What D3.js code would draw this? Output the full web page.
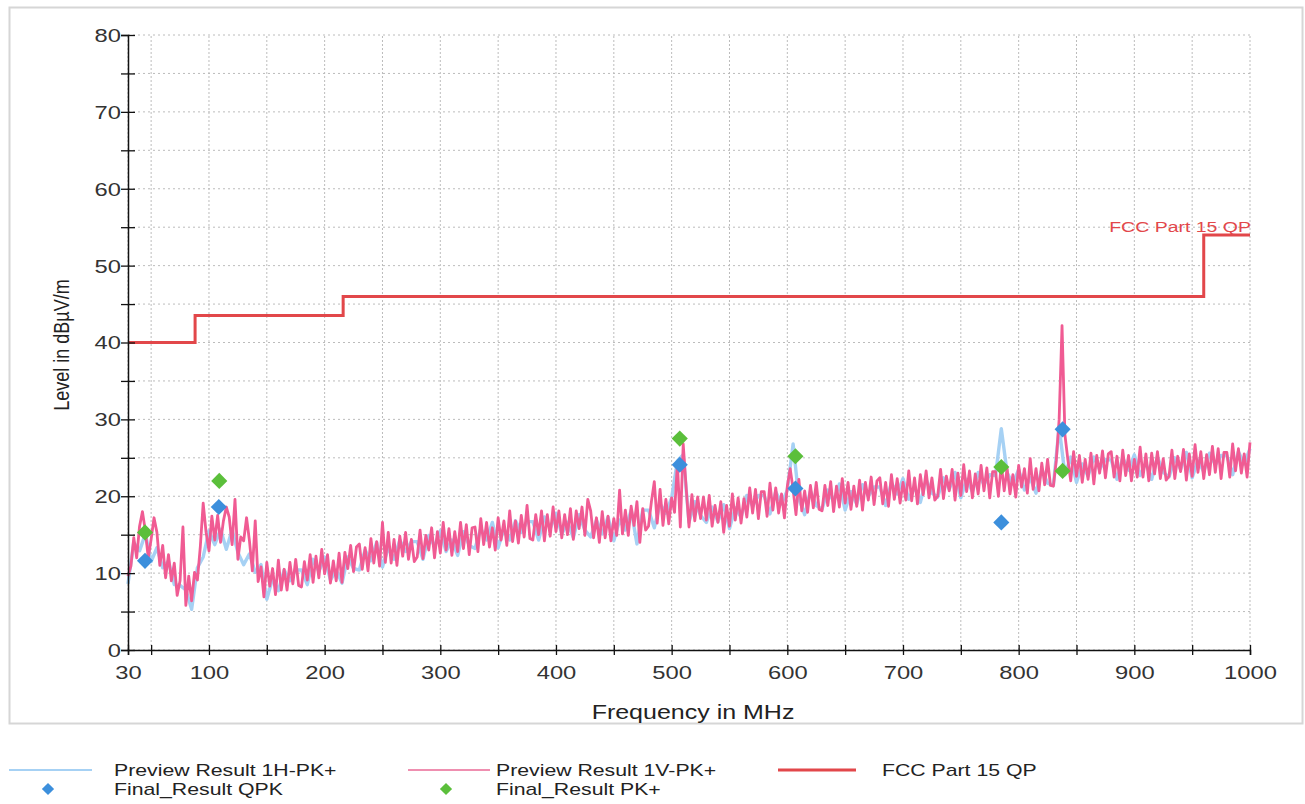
<!DOCTYPE html>
<html>
<head>
<meta charset="utf-8">
<script src="https://cdn.jsdelivr.net/npm/d3@7"></script>
<style>
body { margin: 0; background: #fff; }
svg text { font-family: "Liberation Sans", Arial, sans-serif; }
</style>
</head>
<body>
<div id="chart"></div>
<script>
// sweep settings (MHz)
var sweepStart = 30;
var step1V = 2.5;
var step1H = 5;

// Preview Result 1V-PK+ (dBµV/m), one value per 2.5 MHz from 30 MHz
var level1V = [
  9.6, 10.9, 14.6, 12.0, 16.1, 18.0, 15.5, 12.0, 14.4, 17.2, 15.3, 11.0, 13.6, 9.4, 12.4, 9.0, 11.3, 7.1, 9.0, 16.0,
  5.8, 9.6, 6.4, 10.1, 9.1, 13.4, 19.1, 15.3, 12.9, 17.4, 14.3, 17.5, 14.0, 16.8, 18.6, 17.3, 13.7, 19.6, 11.8, 14.7,
  14.2, 17.2, 14.2, 10.3, 16.8, 8.9, 10.8, 6.9, 11.4, 8.3, 10.6, 7.2, 11.7, 7.8, 10.5, 7.8, 11.4, 8.6, 11.8, 8.4,
  8.2, 11.5, 9.1, 12.4, 8.8, 12.2, 9.4, 13.1, 9.9, 12.4, 8.7, 11.6, 9.0, 12.6, 8.8, 12.7, 10.6, 13.6, 10.2, 13.4,
  13.8, 10.5, 13.3, 10.3, 14.5, 11.3, 14.1, 10.9, 16.6, 11.4, 15.3, 11.3, 14.4, 11.0, 14.8, 12.2, 15.3, 11.8, 14.4, 11.5,
  12.1, 15.6, 11.9, 14.9, 13.0, 15.9, 12.0, 15.4, 12.6, 16.6, 13.0, 15.8, 12.3, 15.4, 12.8, 16.6, 13.2, 16.3, 12.4, 15.9,
  16.0, 12.8, 17.1, 13.7, 16.6, 13.4, 15.9, 13.0, 17.2, 14.3, 16.8, 13.6, 18.1, 14.1, 16.8, 13.9, 17.5, 14.7, 18.8, 14.5,
  14.3, 17.6, 15.0, 18.1, 14.2, 17.6, 14.8, 18.6, 15.4, 18.1, 14.6, 17.6, 15.0, 18.4, 14.4, 18.1, 15.8, 18.6, 14.9, 19.6,
  18.1, 14.6, 17.2, 14.0, 18.0, 14.6, 17.4, 14.2, 17.1, 14.9, 20.8, 15.1, 18.2, 14.9, 18.7, 16.2, 19.3, 14.0, 18.4, 15.6,
  16.1, 19.3, 21.9, 16.5, 20.9, 16.2, 19.6, 16.4, 19.8, 17.9, 24.3, 16.0, 26.8, 21.2, 16.0, 20.2, 16.8, 19.9, 17.1, 19.9,
  16.9, 20.1, 16.1, 18.8, 16.6, 19.3, 15.3, 18.8, 16.1, 20.3, 16.9, 19.8, 16.5, 19.7, 17.3, 21.1, 17.8, 20.9, 17.1, 20.6,
  20.6, 17.4, 21.7, 18.2, 21.1, 17.8, 20.3, 17.2, 21.3, 23.6, 20.9, 17.6, 22.2, 18.1, 20.7, 17.9, 21.4, 18.5, 21.8, 18.3,
  18.1, 21.4, 18.8, 21.9, 18.0, 21.3, 18.6, 22.3, 19.1, 21.8, 18.3, 21.3, 18.7, 22.1, 18.2, 21.8, 19.5, 22.5, 18.9, 22.0,
  22.4, 19.0, 21.8, 18.7, 22.8, 19.6, 22.3, 19.1, 21.8, 19.5, 23.3, 19.4, 22.4, 19.0, 22.8, 20.2, 23.3, 19.8, 22.4, 19.5,
  20.0, 23.5, 19.7, 22.6, 20.7, 23.5, 19.5, 23.0, 20.1, 24.1, 20.6, 23.3, 19.8, 22.9, 20.3, 24.0, 20.7, 23.7, 19.8, 23.2,
  23.2, 20.0, 24.2, 20.7, 23.6, 20.3, 22.8, 19.9, 24.0, 21.2, 23.6, 20.4, 24.9, 20.9, 23.6, 20.7, 24.3, 21.5, 24.8, 21.4,
  21.3, 24.6, 30.0, 42.2, 28.0, 24.8, 22.0, 25.8, 22.6, 25.3, 21.8, 24.8, 22.2, 25.6, 21.6, 25.3, 23.0, 25.9, 22.4, 25.5,
  25.8, 22.5, 25.2, 22.0, 26.0, 22.7, 25.3, 22.0, 24.8, 22.5, 26.4, 22.5, 25.5, 22.0, 25.6, 22.9, 25.8, 22.3, 24.9, 22.1,
  22.6, 26.0, 22.3, 25.2, 23.2, 26.1, 22.1, 25.5, 22.6, 26.7, 23.1, 25.8, 22.3, 25.4, 22.8, 26.5, 23.1, 26.2, 22.3, 25.7,
  25.7, 22.5, 26.8, 23.3, 26.2, 23.0, 25.5, 22.5, 27.0
];

// Preview Result 1H-PK+ (dBµV/m), one value per 5 MHz from 30 MHz
var level1H = [
  8.6, 14.0, 12.9, 15.1, 11.5, 13.3, 10.7, 11.6, 8.5, 8.4,
  7.8, 5.3, 10.7, 12.1, 15.5, 13.7, 15.7, 13.1, 15.6, 12.7,
  11.1, 12.5, 10.1, 11.1, 6.6, 9.3, 7.7, 10.4, 9.0, 10.4,
  10.4, 8.5, 11.8, 10.2, 12.1, 9.1, 10.4, 8.7, 12.1, 10.6,
  10.4, 13.0, 11.6, 14.0, 10.8, 13.3, 11.8, 14.3, 12.8, 14.1,
  14.1, 11.8, 14.9, 13.5, 15.5, 12.8, 14.3, 12.3, 15.4, 13.6,
  13.2, 15.8, 14.3, 16.6, 13.3, 15.8, 14.3, 16.8, 15.3, 16.7,
  16.7, 14.3, 17.3, 15.8, 17.8, 15.1, 16.6, 14.6, 17.6, 15.6,
  14.7, 16.9, 15.1, 17.3, 14.2, 16.9, 15.6, 18.2, 13.8, 18.2,
  18.2, 15.9, 19.0, 17.8, 19.8, 24.6, 25.4, 16.6, 19.3, 17.5,
  16.6, 18.6, 16.7, 18.9, 15.8, 18.5, 17.3, 20.1, 18.7, 20.1,
  20.1, 17.7, 20.6, 19.0, 20.8, 26.8, 19.7, 17.6, 20.7, 18.8,
  18.3, 20.8, 19.3, 21.6, 18.2, 20.6, 19.0, 21.5, 20.0, 21.2,
  21.2, 18.8, 21.8, 20.3, 22.3, 19.6, 21.2, 19.2, 22.2, 20.4,
  19.9, 22.4, 20.9, 23.1, 19.8, 22.2, 20.6, 23.1, 21.5, 22.8,
  22.7, 28.8, 23.1, 21.6, 23.5, 20.8, 22.4, 20.4, 23.5, 21.7,
  21.4, 29.0, 22.8, 25.1, 21.8, 24.2, 22.6, 25.1, 23.5, 24.8,
  24.7, 22.2, 25.0, 23.4, 25.4, 22.7, 24.3, 22.2, 25.1, 23.1,
  22.5, 25.0, 23.5, 25.7, 22.4, 24.7, 23.2, 25.6, 24.1, 25.3,
  25.3, 22.8, 25.8, 24.2, 26.2
];

// FCC Part 15 QP limit (step starts)
var limitFreq = [30, 88, 216, 960, 1000];
var limitLevel = [40, 43.5, 46, 54, 54];

// final measurements
var qpkFreq = [44.7, 108.5, 507, 607, 785, 838];
var qpkLevel = [11.6, 18.6, 24.1, 21.0, 16.6, 28.7];
var pkFreq = [44.7, 108.9, 507, 607, 785, 838];
var pkLevel = [15.3, 22.0, 27.5, 25.2, 23.8, 23.3];

// axis ticks
var xMajorTicks = [30, 100, 200, 300, 400, 500, 600, 700, 800, 900, 1000];
var xMinorTicks = [50, 150, 250, 350, 450, 550, 650, 750, 850, 950];
var yMajorTicks = [0, 10, 20, 30, 40, 50, 60, 70, 80];
var yMinorTicks = [5, 15, 25, 35, 45, 55, 65, 75];

var legendNames = ["Preview Result 1H-PK+", "Final_Result QPK", "Preview Result 1V-PK+", "Final_Result PK+", "FCC Part 15 QP"];

function chart() {
    var w = 1305;
    var h = 804;
    var sx = 1.25;   // the picture's text is stretched sideways

    var colorH = "#a6d1f4";
    var colorV = "#f05b93";
    var colorLimit = "#e2474a";
    var colorQpk = "#3c8fdc";
    var colorPk = "#5bbf3b";

    var svg = d3.select("#chart")
            .append("svg")
            .attr("width", w)
            .attr("height", h);

    svg.append("rect")
        .attr("x", 9.5).attr("y", 7.5)
        .attr("width", 1293).attr("height", 716)
        .attr("fill", "#fff")
        .attr("stroke", "#d6d6d6")
        .attr("stroke-width", 2);

    var x = d3.scaleLinear().domain([30, 1000]).range([128, 1250]);
    var y = d3.scaleLinear().domain([0, 80]).range([650, 35]);

    // dotted grid
    var grid = svg.append("g");
    grid.selectAll("line.v")
        .data(xMajorTicks.concat(xMinorTicks))
        .enter()
        .append("line")
        .attr("x1", function(d) { return x(d); })
        .attr("x2", function(d) { return x(d); })
        .attr("y1", y(0))
        .attr("y2", y(80))
        .attr("stroke", "#bcbcbc")
        .attr("stroke-dasharray", "2,2");
    grid.selectAll("line.h")
        .data(yMajorTicks.concat(yMinorTicks))
        .enter()
        .append("line")
        .attr("x1", x(30))
        .attr("x2", x(1000))
        .attr("y1", function(d) { return y(d); })
        .attr("y2", function(d) { return y(d); })
        .attr("stroke", "#bcbcbc")
        .attr("stroke-dasharray", "2,3");

    var line = d3.line()
        .x(function(d) { return x(d[0]); })
        .y(function(d) { return y(d[1]); });

    var pts1H = level1H.map(function(v, i) { return [sweepStart + i * step1H, v]; });
    var pts1V = level1V.map(function(v, i) { return [sweepStart + i * step1V, v]; });

    svg.append("path")
        .datum(pts1H)
        .attr("d", line)
        .attr("fill", "none")
        .attr("stroke", colorH)
        .attr("stroke-width", 3.4)
        .attr("stroke-linejoin", "round");

    svg.append("path")
        .datum(pts1V)
        .attr("d", line)
        .attr("fill", "none")
        .attr("stroke", colorV)
        .attr("stroke-width", 2.8)
        .attr("stroke-linejoin", "round");

    var limitPts = limitFreq.map(function(f, i) { return [f, limitLevel[i]]; });
    svg.append("path")
        .datum(limitPts)
        .attr("d", line.curve(d3.curveStepAfter))
        .attr("fill", "none")
        .attr("stroke", colorLimit)
        .attr("stroke-width", 3);
    line.curve(d3.curveLinear);

    svg.append("text")
        .attr("transform", "translate(1251,232) scale(1.3,1)")
        .attr("text-anchor", "end")
        .attr("font-size", 15)
        .attr("fill", colorLimit)
        .text(legendNames[4]);

    // axes
    var gx = svg.append("g")
        .attr("transform", "translate(0," + y(0) + ")")
        .call(d3.axisBottom(x)
            .tickValues(xMajorTicks.concat(xMinorTicks))
            .tickSizeOuter(0)
            .tickSize(5)
            .tickFormat(function(d) { return xMajorTicks.indexOf(d) >= 0 ? d : ""; }));
    gx.attr("font-size", null).attr("font-family", null);
    gx.select(".domain").attr("stroke", "#111").attr("stroke-width", 1.5);
    gx.selectAll(".tick line").attr("y1", -5).attr("y2", 5).attr("stroke", "#111").attr("stroke-width", 1.3);
    gx.selectAll(".tick text")
        .attr("y", 16)
        .attr("dy", "0.71em")
        .attr("font-size", 19)
        .attr("fill", "#333")
        .attr("transform", "scale(" + sx + ",1)");

    var gy = svg.append("g")
        .attr("transform", "translate(" + x(30) + ",0)")
        .call(d3.axisLeft(y)
            .tickValues(yMajorTicks.concat(yMinorTicks))
            .tickSizeOuter(0)
            .tickSize(7)
            .tickFormat(function(d) { return yMajorTicks.indexOf(d) >= 0 ? d : ""; }));
    gy.attr("font-size", null).attr("font-family", null);
    gy.select(".domain").attr("stroke", "#111").attr("stroke-width", 1.5);
    gy.selectAll(".tick line").attr("x1", -7).attr("x2", 7).attr("stroke", "#111").attr("stroke-width", 1.3);
    gy.selectAll(".tick text")
        .attr("x", -5.6)
        .attr("dy", "0.34em")
        .attr("font-size", 19)
        .attr("fill", "#333")
        .attr("transform", "scale(" + sx + ",1)");

    // final result markers
    var diamond = d3.symbol().type(d3.symbolSquare).size(130);
    svg.selectAll("path.pk")
        .data(pkFreq)
        .enter()
        .append("path")
        .attr("d", diamond)
        .attr("transform", function(d, i) {
            return "translate(" + x(d) + "," + y(pkLevel[i]) + ") rotate(45)";
        })
        .attr("fill", colorPk);
    svg.selectAll("path.qpk")
        .data(qpkFreq)
        .enter()
        .append("path")
        .attr("d", diamond)
        .attr("transform", function(d, i) {
            return "translate(" + x(d) + "," + y(qpkLevel[i]) + ") rotate(45)";
        })
        .attr("fill", colorQpk);

    // axis titles
    svg.append("text")
        .attr("transform", "translate(693,719) scale(" + sx + ",1)")
        .attr("text-anchor", "middle")
        .attr("font-size", 20)
        .attr("fill", "#222")
        .text("Frequency in MHz");

    svg.append("text")
        .attr("transform", "translate(69,345) scale(" + sx + ",1) rotate(-90)")
        .attr("text-anchor", "middle")
        .attr("font-size", 18)
        .attr("fill", "#222")
        .text("Level in dBµV/m");

    // legend
    var lg = svg.append("g");
    var legendRows = [770, 789];

    function legendText(tx, ty, label) {
        lg.append("text")
            .attr("transform", "translate(" + tx + "," + ty + ") scale(" + sx + ",1)")
            .attr("dy", "0.36em")
            .attr("font-size", 17)
            .attr("fill", "#222")
            .text(label);
    }
    function legendLine(x1, x2, color, width) {
        lg.append("line")
            .attr("x1", x1).attr("x2", x2)
            .attr("y1", legendRows[0]).attr("y2", legendRows[0])
            .attr("stroke", color)
            .attr("stroke-width", width);
    }
    function legendDiamond(cx, color) {
        lg.append("path")
            .attr("d", d3.symbol().type(d3.symbolSquare).size(75))
            .attr("transform", "translate(" + cx + "," + legendRows[1] + ") rotate(45)")
            .attr("fill", color);
    }

    legendLine(9, 92, colorH, 2);
    legendText(114, legendRows[0], legendNames[0]);
    legendDiamond(48, colorQpk);
    legendText(114, legendRows[1], legendNames[1]);

    legendLine(408, 490, "#ef8fb0", 2);
    legendText(496, legendRows[0], legendNames[2]);
    legendDiamond(446, colorPk);
    legendText(496, legendRows[1], legendNames[3]);

    legendLine(778, 856, colorLimit, 3);
    legendText(882, legendRows[0], legendNames[4]);
}

window.onload = chart;
</script>
</body>
</html>
